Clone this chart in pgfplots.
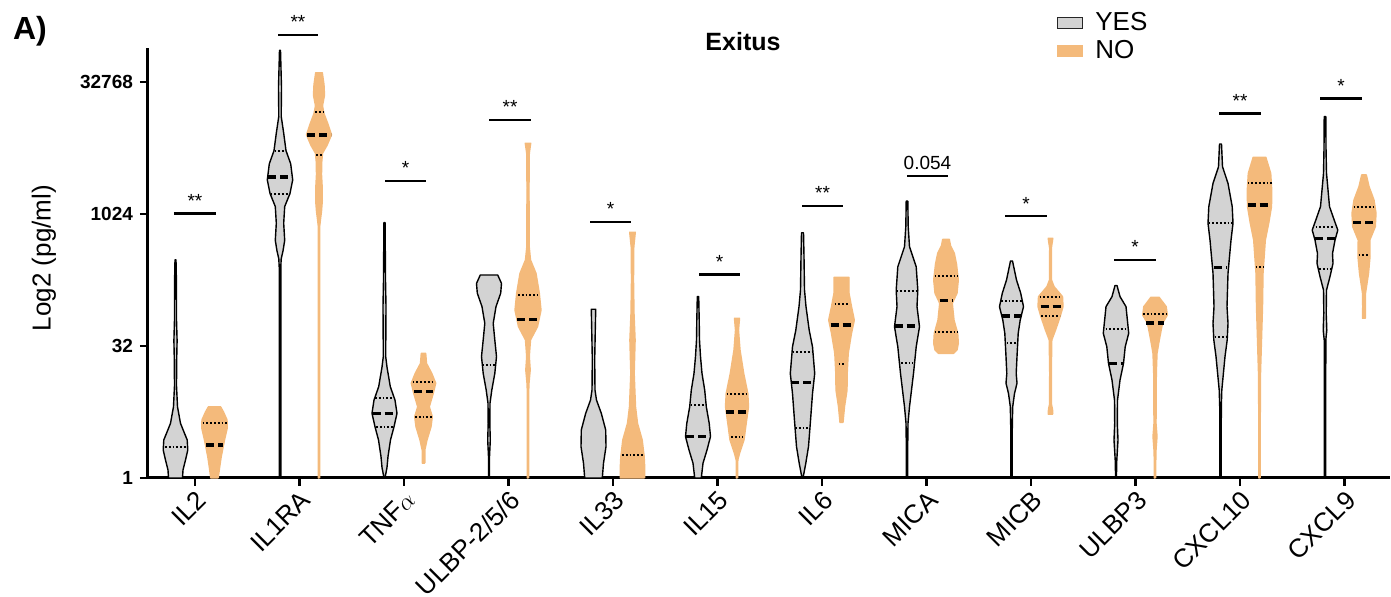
\documentclass[border=0pt]{standalone}
\usepackage{pgfplots}
\pgfplotsset{compat=1.18}
\usepackage{fontspec}
\setmainfont{Liberation Sans}
\definecolor{gy}{RGB}{211,211,211}
\definecolor{orn}{RGB}{244,186,123}

% violin: #1 centre, #2 style, #3 list of value/half-width pairs
\newcommand\violin[3]{%
  \gdef\vR{}\gdef\vL{}\gdef\vF{}%
  \foreach \yy/\ww [count=\k] in {#3}{%
    \pgfmathsetmacro\xr{#1+\ww}\pgfmathsetmacro\xl{#1-\ww}%
    \xdef\vR{\vR (\xr,\yy)}\xdef\vL{(\xl,\yy)\vL}%
    \ifnum\k=1 \xdef\vF{(\xr,\yy)}\fi}%
  \edef\tmp{\noexpand\addplot[\unexpanded{#2}, forget plot] coordinates {\vR\vL\vF};}\tmp}
% horizontal line: #1 centre, #2 value, #3 half-width, #4 style
\newcommand\hl[4]{%
  \pgfmathsetmacro\xa{#1-#3}\pgfmathsetmacro\xb{#1+#3}%
  \edef\tmp{\noexpand\addplot[\unexpanded{#4}, forget plot] coordinates {(\xa,#2) (\xb,#2)};}\tmp}
\newcommand\sigfont{\fontsize{9.5}{11}\selectfont}
\newcommand\sig[4]{%
  \addplot[black, line width=1.4pt, forget plot] coordinates {(#1,#3) (#2,#3)};
  \pgfmathsetmacro\xm{(#1+#2)/2}\pgfmathsetmacro\ym{#3+0.23}%
  \edef\tmp{\noexpand\node[anchor=base, inner sep=0pt, font=\noexpand\sigfont] at (axis cs:\xm,\ym) {\unexpanded{#4}};}\tmp}

\pgfplotsset{
  vy/.style={fill=gy, draw=black, line width=0.7pt, line join=round},
  vn/.style={fill=orn, draw=orn, line width=0.7pt, line join=round},
  med/.style={black, line width=1.8pt, dash pattern=on 4pt off 2pt},
  qrt/.style={black, line width=1pt, dash pattern=on 0.9pt off 1pt},
}

\begin{document}
\begin{tikzpicture}
\begin{axis}[
  scale only axis, width=621pt, height=215pt,
  xmin=148, xmax=1390, ymin=0, ymax=16.288,
  clip=false,
  axis x line*=bottom, axis y line*=left,
  axis line style={line width=1.5pt, black},
  tick align=outside, major tick length=4pt,
  tick style={line width=1.2pt, black},
  xtick={195,299.5,404,508.5,613,717.5,822,926.5,1031,1135.5,1240,1344.5},
  xticklabels={IL2,IL1RA,TNF$\alpha$,ULBP-2/5/6,IL33,IL15,IL6,MICA,MICB,ULBP3,CXCL10,CXCL9},
  xticklabel style={rotate=45, anchor=north east, inner sep=1pt, font=\fontsize{13}{15}\selectfont},
  ytick={0,5,10,15}, yticklabels={1,32,1024,32768},
  yticklabel style={font=\bfseries\fontsize{9.5}{11}\selectfont},
  minor tick num=0,
  legend style={at={(0.732,1.09)}, anchor=north west, draw=none, fill=none,
    inner sep=0pt, outer sep=0pt, row sep=0.6pt,
    font=\fontsize{13}{15}\selectfont, nodes={inner sep=1.5pt},
    /tikz/every odd column/.append style={column sep=4.5pt}},
  legend cell align=left,
  legend image code/.code={\draw[#1, line width=0.6pt] (0pt,-2.8pt) rectangle (12.5pt,2.8pt);},
]
\addlegendimage{fill=gy, draw=black!85}
\addlegendentry{YES}
\addlegendimage{fill=orn, draw=orn}
\addlegendentry{NO}

% IL2
\violin{175.5}{vy}{0/7, 0.3/7.5, 0.68/10, 1.06/12.3, 1.44/11.7, 2.07/5, 2.7/2, 3.5/1, 4.5/1.2, 5.2/1.6, 6/1, 7.5/0.9, 8.26/0.5}
\hl{175.5}{1.19}{10.5}{qrt}
\violin{214.5}{vn}{0/3.7, 0.5/5.5, 0.8/6.7, 1.44/10, 1.9/12.8, 2.2/12.5, 2.5/9, 2.7/6}
\hl{214.5}{2.07}{12}{qrt}\hl{214.5}{1.25}{8.5}{med}
% IL1RA
\violin{280}{vy}{0/0.8, 8.0/0.8, 8.3/1.2, 8.6/3, 9.0/4.7, 9.65/3.7, 10.28/4.7, 10.78/10, 11.29/12.7, 11.9/10.7, 12.4/6, 13.06/3.7, 13.7/1.2, 14.8/1.5, 15.5/1, 16.2/0.5}
\hl{280}{12.39}{5.5}{qrt}\hl{280}{11.41}{12}{med}\hl{280}{10.74}{9.5}{qrt}
\violin{319}{vn}{0/0.6, 9.5/0.6, 9.8/1.5, 10.1/2.5, 10.5/3.3, 11.0/3.2, 11.5/2.5, 12.0/2.8, 12.3/3.5, 12.6/8, 13.0/12.5, 13.4/9, 13.8/5, 14.1/3.5, 14.5/5.5, 14.9/5, 15.35/3.3}
\hl{319}{13.88}{4}{qrt}\hl{319}{13.0}{12}{med}\hl{319}{12.23}{3}{qrt}
% TNFa
\violin{384.5}{vy}{0/0.5, 0.4/2.5, 0.81/3.5, 1.44/6, 1.94/9.5, 2.45/12.5, 2.95/10.5, 3.46/5.8, 4.2/2.5, 4.6/1.2, 6.5/1.5, 7.5/1, 9.67/0.6}
\hl{384.5}{3.02}{9.5}{qrt}\hl{384.5}{2.45}{12}{med}\hl{384.5}{1.94}{8.5}{qrt}
\violin{423.5}{vn}{0.56/1.3, 1.06/1.3, 1.44/3.5, 1.94/7.5, 2.32/8.8, 2.7/5.8, 3.2/9.7, 3.59/12.2, 3.96/8.3, 4.34/3, 4.72/2.2}
\hl{423.5}{3.65}{11}{qrt}\hl{423.5}{3.27}{9.5}{med}\hl{423.5}{2.32}{8.5}{qrt}
% ULBP-2/5/6
\violin{489}{vy}{0/0.5, 0.8/0.5, 1.44/1.3, 2.07/0.8, 2.83/1, 3.33/2.8, 3.96/5.8, 4.6/7.5, 5.23/5.8, 5.86/4.2, 6.49/7, 7.0/11.7, 7.37/12.5, 7.69/8.7}
\hl{489}{4.28}{7}{qrt}
\violin{528}{vn}{0/0.7, 3.3/0.7, 3.59/1, 4.09/2.2, 4.6/1.3, 5.23/2.5, 5.73/9.5, 6.36/13, 7.0/11.3, 7.75/8, 8.26/2.5, 8.76/1.2, 11/1, 12.3/1.3, 12.68/2.7}
\hl{528}{6.93}{10}{qrt}\hl{528}{6.01}{11}{med}
% IL33
\violin{593.5}{vy}{0/8.8, 0.56/10, 1.19/12.5, 1.82/12.2, 2.45/7.8, 2.95/3, 3.33/1.5, 4.5/1.2, 6.39/2.2}
\violin{632.5}{vn}{0/12.2, 0.4/12.2, 0.8/11.7, 1.44/9.7, 2.07/5, 2.7/3, 3.96/1.7, 5.23/2.6, 6.24/1.5, 7.5/1, 8.76/1.3, 9.31/2.8}
\hl{632.5}{0.87}{10.5}{qrt}
% IL15
\violin{698}{vy}{0/3.3, 0.56/5, 1.06/9, 1.57/12.5, 2.07/11.2, 2.7/8.3, 3.33/6.7, 3.96/4, 4.6/2.5, 5.23/1.5, 6.0/1.2, 6.87/0.7}
\hl{698}{2.77}{7.5}{qrt}\hl{698}{1.57}{12}{med}
\violin{737}{vn}{0/0.6, 0.68/0.8, 0.93/2.5, 1.44/7, 2.07/9.2, 2.7/11.5, 3.2/10.8, 3.96/6.7, 4.85/3, 5.6/1.5, 6.05/2.5}
\hl{737}{3.18}{10.5}{qrt}\hl{737}{2.51}{11}{med}\hl{737}{1.57}{6}{qrt}
% IL6
\violin{802.5}{vy}{0/0.5, 0.2/1.5, 0.56/3.3, 1.19/6, 2.07/7.8, 3.2/10, 3.96/12.2, 4.97/10, 5.6/6.7, 6.49/3.5, 7.12/2, 8.38/1.5, 9.29/1}
\hl{802.5}{4.79}{10}{qrt}\hl{802.5}{3.61}{11.5}{med}\hl{802.5}{1.91}{7.5}{qrt}
\violin{841.5}{vn}{2.1/1.5, 2.7/3, 3.33/5.5, 3.96/5.7, 4.72/6.7, 5.48/10, 5.98/12.8, 6.49/10, 7.0/7.5, 7.6/7.5}
\hl{841.5}{6.58}{7}{qrt}\hl{841.5}{5.8}{11}{med}\hl{841.5}{4.32}{3}{qrt}
% MICA
\violin{907}{vy}{0/0.6, 1.5/0.8, 2.07/1, 2.7/2.5, 3.96/6.5, 4.97/9.2, 5.73/12.5, 6.49/10, 7.12/10.8, 8.0/9.2, 8.76/2.5, 9.52/1.2, 10.49/0.8}
\hl{907}{7.1}{10.5}{qrt}\hl{907}{5.76}{12.5}{med}\hl{907}{4.37}{6}{qrt}
\violin{946}{vn}{4.72/7.5, 4.85/11, 5.1/12.3, 5.48/11.7, 5.98/8, 6.62/6.3, 7.0/11, 7.5/12.3, 8.1/10.5, 8.51/8.3, 8.8/4.5, 9.04/3.3}
\hl{946}{7.65}{11.5}{qrt}\hl{946}{6.72}{6.5}{med}\hl{946}{5.54}{11.5}{qrt}
% MICB
\violin{1011.5}{vy}{0/0.6, 2.0/0.8, 2.7/1.2, 3.2/3, 3.59/5.5, 3.96/4.7, 4.6/5.5, 5.48/6.7, 5.98/8.7, 6.49/12, 7.0/9.2, 7.5/5, 8.22/1}
\hl{1011.5}{6.7}{10.5}{qrt}\hl{1011.5}{6.13}{9.5}{med}\hl{1011.5}{5.1}{5}{qrt}
\violin{1050.5}{vn}{2.42/2.3, 2.6/2, 2.8/0.9, 4.0/0.8, 5.23/1.3, 5.6/5, 6.1/9.5, 6.49/12.5, 6.87/12, 7.25/3.5, 7.5/1, 8.7/0.8, 9.08/2.3}
\hl{1050.5}{6.84}{11}{qrt}\hl{1050.5}{6.49}{10}{med}\hl{1050.5}{6.13}{9.5}{qrt}
% ULBP3
\violin{1116}{vy}{0/0.4, 0.68/0.8, 1.44/2, 2.07/1.3, 2.95/1.5, 3.71/4, 4.34/7.5, 4.97/9.2, 5.48/12.7, 5.86/11.7, 6.49/10, 6.87/4, 7.29/1}
\hl{1116}{5.63}{10.5}{qrt}\hl{1116}{4.34}{7.5}{med}
\violin{1155}{vn}{0/0.7, 0.8/0.8, 1.06/1, 1.57/2, 2.07/1, 3.0/1.2, 3.96/1.3, 4.72/2, 5.23/4.3, 5.86/7.5, 6.17/12.3, 6.49/11.2, 6.84/4.2}
\hl{1155}{6.21}{12}{qrt}\hl{1155}{5.86}{9}{med}
% CXCL10
\violin{1220.5}{vy}{0/0.7, 2.7/0.8, 3.33/1.3, 4.6/4.5, 5.23/6.7, 5.86/7.5, 6.49/6.5, 7.75/7.5, 9.01/10.5, 9.65/12.5, 10.28/11.7, 11.16/7.5, 11.79/2, 12.65/1}
\hl{1220.5}{9.65}{12}{qrt}\hl{1220.5}{7.97}{6.5}{med}\hl{1220.5}{5.33}{6}{qrt}
\violin{1259.5}{vn}{0/0.6, 2.7/0.8, 3.96/1, 5.23/2, 6.49/3, 7.75/3.5, 9.01/5.8, 9.65/9.2, 10.28/12, 10.91/12.2, 11.54/11.2, 12.15/6.3}
\hl{1259.5}{11.16}{12}{qrt}\hl{1259.5}{10.34}{12}{med}\hl{1259.5}{8.0}{4}{qrt}
% CXCL9
\violin{1325}{vy}{0/0.7, 5.23/0.8, 5.6/1.8, 6.24/1.2, 7.12/1.5, 7.63/5, 8.13/8, 8.5/7.5, 9.01/10, 9.39/12.8, 9.77/9.2, 10.28/4.5, 10.91/3, 11.54/1.5, 12.5/1, 13.69/0.8}
\hl{1325}{9.52}{9.5}{qrt}\hl{1325}{9.07}{10}{med}\hl{1325}{7.92}{6}{qrt}
\violin{1364}{vn}{6.05/1.5, 6.49/1.3, 7.0/1.5, 7.75/4.5, 8.38/6, 9.01/5.8, 9.52/11.3, 10.03/12, 10.53/10, 11.04/5, 11.48/2.3}
\hl{1364}{10.28}{10.5}{qrt}\hl{1364}{9.67}{11}{med}\hl{1364}{8.45}{5.5}{qrt}

% significance
\sig{174}{216}{10.02}{**}
\sig{278}{318}{16.78}{**}
\sig{385}{426}{11.25}{*}
\sig{489}{531}{13.56}{**}
\sig{590}{631}{9.7}{*}
\sig{699}{740}{7.71}{*}
\sig{802}{843}{10.3}{**}
\sig{907}{948}{11.44}{0.054}
\sig{1005}{1047}{9.92}{*}
\sig{1114}{1156}{8.26}{*}
\sig{1219}{1261}{13.81}{**}
\sig{1320}{1362}{14.38}{*}

\node[font=\bfseries\fontsize{12.5}{14}\selectfont] at (axis cs:743,16.55) {Exitus};
\node[font=\bfseries\fontsize{16}{18}\selectfont] at (axis cs:30,16.91) {A)};
\node[rotate=90, font=\fontsize{13}{15}\selectfont] at (axis cs:44,8.33) {Log2 (pg/ml)};
\coordinate (bbA) at (axis cs:0,18.106);
\coordinate (bbB) at (axis cs:1391,-4.508);
\end{axis}
\pgfresetboundingbox
\useasboundingbox (bbA) rectangle (bbB);
\end{tikzpicture}
\end{document}
